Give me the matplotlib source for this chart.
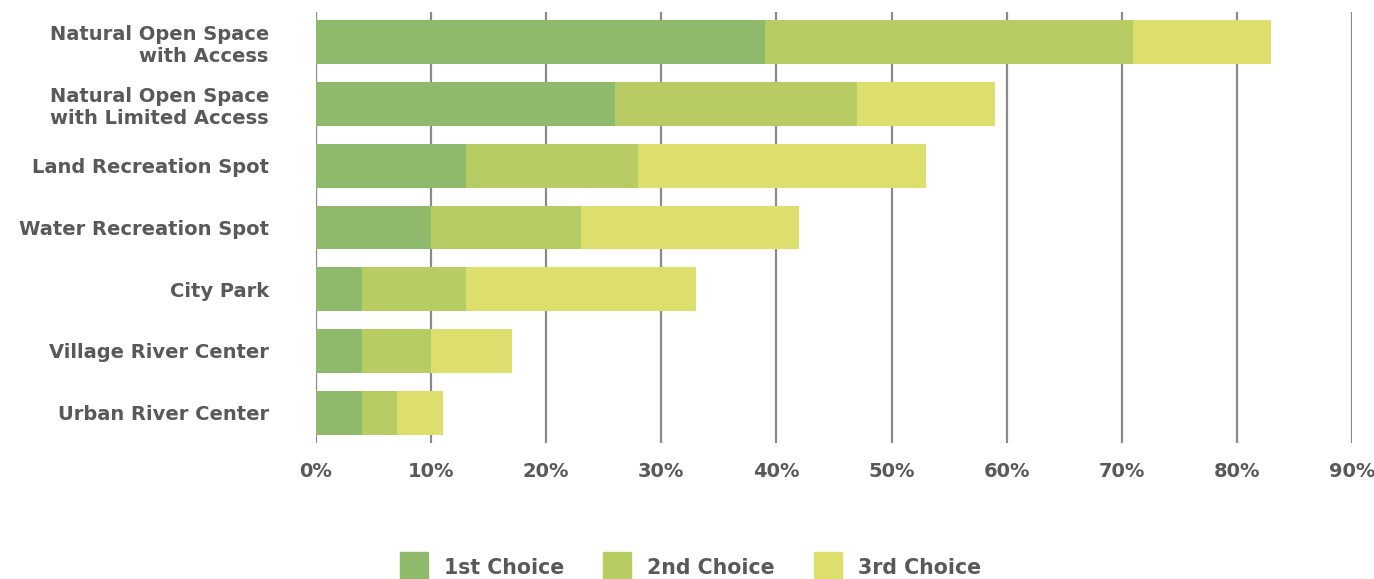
import matplotlib
matplotlib.use('Agg')
import matplotlib.pyplot as plt
from matplotlib.patches import Rectangle

# data (percent)
categories = ["Natural Open Space\nwith Access", "Natural Open Space\nwith Limited Access",
              "Land Recreation Spot", "Water Recreation Spot", "City Park",
              "Village River Center", "Urban River Center"]
first = [39, 26, 13, 10, 4, 4, 4]
second = [32, 21, 15, 13, 9, 6, 3]
third = [12, 12, 25, 19, 20, 7, 4]
series_names = ["1st Choice", "2nd Choice", "3rd Choice"]
colors = ["#8fba6b", "#b8cc64", "#dcdf6c"]
ticks = [0, 10, 20, 30, 40, 50, 60, 70, 80, 90]

TXT = "#595959"
W, H = 1374, 579
plt.rcParams['font.family'] = ['DejaVu Sans']

fig = plt.figure(figsize=(W / 100, H / 100), dpi=100)
ax = fig.add_axes([316 / W, 136 / H, 1036 / W, 431 / H])

y = list(range(len(categories)))
left = [0] * len(categories)
for vals, name, c in zip([first, second, third], series_names, colors):
    ax.barh(y, vals, left=left, height=0.71, color=c, label=name, zorder=2)
    left = [l + v for l, v in zip(left, vals)]

ax.set_xlim(0, 90)
ax.set_ylim(len(categories) - 0.51, -0.49)
ax.set_xticks(ticks)
ax.set_xticklabels([f"{t}%" for t in ticks])
ax.set_yticks(y)
ax.set_yticklabels(categories, ha='right', linespacing=1.2)
ax.tick_params(axis='both', length=0, colors=TXT, labelsize=14)
ax.tick_params(axis='x', pad=14)
ax.tick_params(axis='y', pad=34)
for lab in ax.get_xticklabels() + ax.get_yticklabels():
    lab.set_fontweight('bold')
ax.grid(axis='x', color='#8a8a8a', linewidth=1.6, zorder=1)
for s in ax.spines.values():
    s.set_visible(False)

# legend drawn by hand so the squares sit where the reference has them
legend_x = [400, 603, 814]
for x0, name, c in zip(legend_x, series_names, colors):
    fig.add_artist(Rectangle((x0 / W, 0), 28 / W, 27 / H, color=c,
                             transform=fig.transFigure))
    fig.text((x0 + 44) / W, 1 - 568 / H, name, color=TXT, fontsize=14.8,
             fontweight='bold', va='center', ha='left')

fig.savefig("out.png", dpi=100)
